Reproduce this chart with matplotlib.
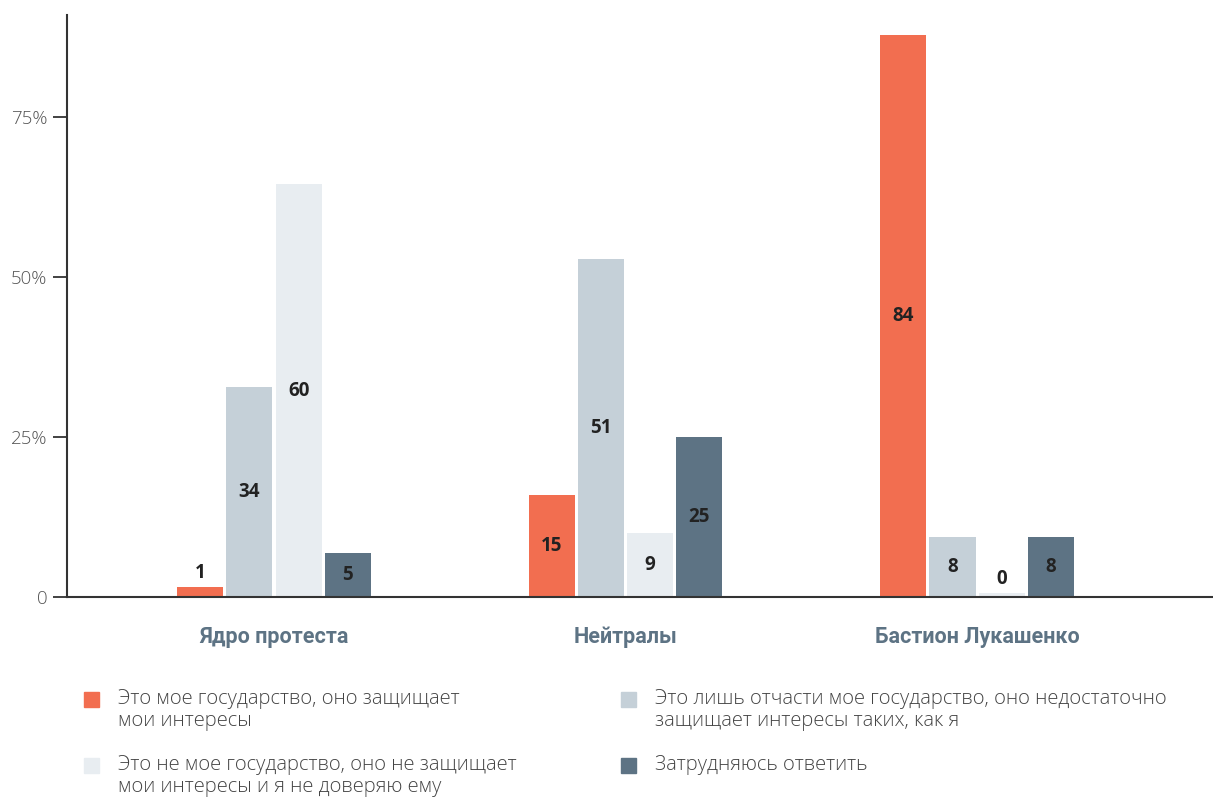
import numpy as np
import matplotlib
matplotlib.use("Agg")
import matplotlib.pyplot as plt
from matplotlib.patches import Rectangle

# data
groups = ["Ядро протеста", "Нейтралы", "Бастион Лукашенко"]
series = [
    "Это мое государство, оно защищает\nмои интересы",
    "Это лишь отчасти мое государство, оно недостаточно\nзащищает интересы таких, как я",
    "Это не мое государство, оно не защищает\nмои интересы и я не доверяю ему",
    "Затрудняюсь ответить",
]
# bar heights as drawn (%)
mine = [1.5, 15.9, 87.7]
partly = [32.8, 52.8, 9.4]
not_mine = [64.5, 10.0, 0.6]
unsure = [6.9, 25.0, 9.4]
# printed labels
lbl_mine = ["1", "15", "84"]
lbl_partly = ["34", "51", "8"]
lbl_not_mine = ["60", "9", "0"]
lbl_unsure = ["5", "25", "8"]

colors = ["#F26E50", "#C5D0D8", "#E8EDF1", "#5D7384"]

plt.rcParams['font.family'] = ['Open Sans', 'DejaVu Sans']

fig = plt.figure(figsize=(12.13, 8), dpi=100)
ax = fig.add_axes([0.0552, 0.25375, 0.9448, 0.7275])

x = np.arange(len(groups))
w = 0.131
step = 0.1400
values = [mine, partly, not_mine, unsure]
labels = [lbl_mine, lbl_partly, lbl_not_mine, lbl_unsure]
for i, (vals, lbls) in enumerate(zip(values, labels)):
    pos = x + (i - 1.5) * step
    bars = ax.bar(pos, vals, width=w, color=colors[i], zorder=2)
    for b, v, t in zip(bars, vals, lbls):
        if v < 3:
            y = v + 2.2
        else:
            y = v / 2
        ax.text(b.get_x() + b.get_width() / 2, y, t, ha="center", va="center",
                fontsize=13.5, fontweight="bold", color="#222222", zorder=3)

ax.set_xlim(-0.589, 2.671)
ax.set_ylim(0, 90.9)
ax.set_yticks([0, 25, 50, 75])
ax.set_yticklabels(["0", "25%", "50%", "75%"])
ax.tick_params(axis="y", length=10, width=1.3, color="#333333", labelsize=13.5,
               labelcolor="#555555", pad=4)
for t in ax.get_yticklabels():
    t.set_fontweight("light")
ax.set_xticks(x)
ax.set_xticklabels(groups, family=['Roboto', 'DejaVu Sans'])
ax.tick_params(axis="x", length=0, pad=21, labelsize=15.5, labelcolor="#5D7384")
for t in ax.get_xticklabels():
    t.set_fontweight("bold")
for s in ["top", "right"]:
    ax.spines[s].set_visible(False)
for s in ["left", "bottom"]:
    ax.spines[s].set_color("#333333")
    ax.spines[s].set_linewidth(1.5)
ax.spines["bottom"].set_zorder(4)

# legend drawn by hand
leg_pos = [(84, 700), (621, 700), (84, 766), (621, 766)]
for (px, py), name, c in zip(leg_pos, series, colors):
    fig.patches.append(Rectangle((px / 1213, 1 - (py + 7) / 800), 15 / 1213, 15 / 800,
                                 transform=fig.transFigure, color=c))
    fig.text((px + 34) / 1213, 1 - (py - 11) / 800, name, ha="left", va="top",
             fontsize=14.5, fontweight="light", color="#444444", linespacing=1.12)

fig.savefig("out.png", dpi=100)
